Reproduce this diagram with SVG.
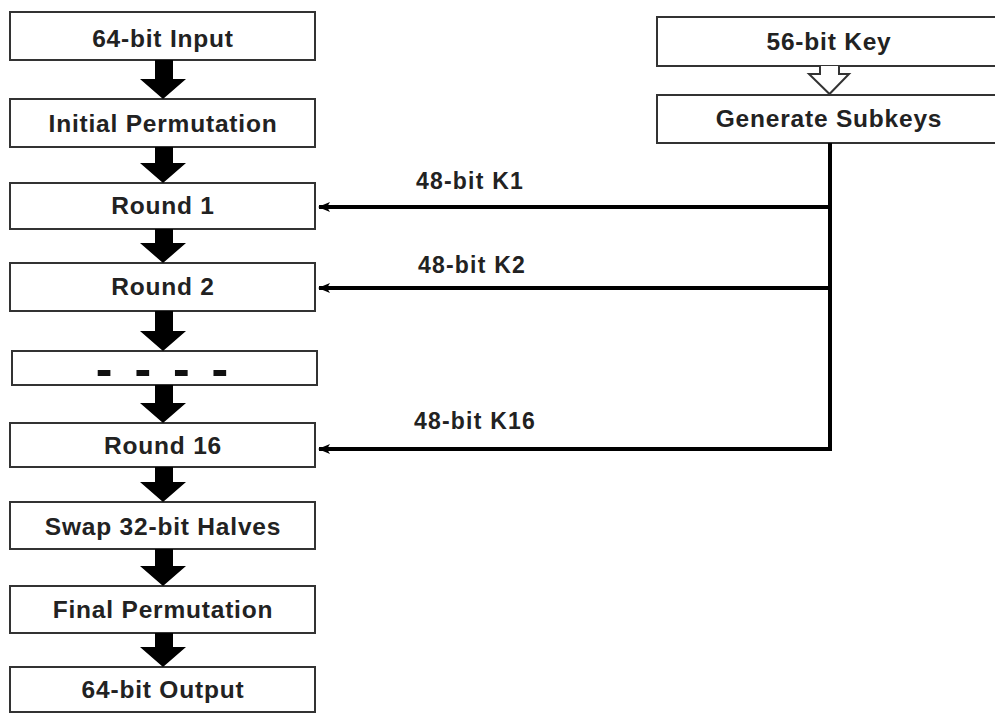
<svg xmlns="http://www.w3.org/2000/svg" width="995" height="713" viewBox="0 0 995 713">
<defs>
<style>
.box{fill:#fff;stroke:#333;stroke-width:2}
.t{font-family:"Liberation Sans",Arial,sans-serif;font-weight:bold;font-size:24.5px;letter-spacing:0.8px;fill:#222;text-anchor:middle}
.lbl{font-family:"Liberation Sans",Arial,sans-serif;font-weight:bold;font-size:23px;letter-spacing:1.2px;fill:#222}
.blk{fill:#000}
.wire{stroke:#000;stroke-width:4;fill:none}
</style>
<marker id="ah" viewBox="0 0 12 10" refX="11" refY="5" markerWidth="12" markerHeight="10" markerUnits="userSpaceOnUse" orient="auto">
<path d="M0,0 L12,5 L0,10 L3,5 Z" fill="#000"/>
</marker>
</defs>
<rect width="995" height="713" fill="#fff"/>
<g id="input"><rect class="box" x="10" y="12" width="305" height="48"/><text class="t" x="163" y="47">64-bit Input</text></g>
<g id="initial-permutation"><rect class="box" x="10" y="99" width="305" height="48"/><text class="t" x="163" y="132">Initial Permutation</text></g>
<g id="round1"><rect class="box" x="10" y="183" width="305" height="46"/><text class="t" x="163" y="214">Round 1</text></g>
<g id="round2"><rect class="box" x="10" y="263" width="305" height="48"/><text class="t" x="163" y="295">Round 2</text></g>
<g id="rounds-ellipsis"><rect class="box" x="12" y="351" width="305" height="34"/><text x="164" y="386" style="font-family:'Liberation Sans',Arial,sans-serif;font-weight:bold;font-size:50px;letter-spacing:4px;fill:#111;text-anchor:middle">- - - -</text></g>
<g id="round16"><rect class="box" x="10" y="423" width="305" height="44"/><text class="t" x="163" y="454">Round 16</text></g>
<g id="swap"><rect class="box" x="10" y="502" width="305" height="47"/><text class="t" x="163" y="535">Swap 32-bit Halves</text></g>
<g id="final-permutation"><rect class="box" x="10" y="586" width="305" height="47"/><text class="t" x="163" y="618">Final Permutation</text></g>
<g id="output"><rect class="box" x="10" y="667" width="305" height="45"/><text class="t" x="163" y="698">64-bit Output</text></g>
<g id="key"><rect class="box" x="657" y="17" width="345" height="49"/><text class="t" x="829" y="50">56-bit Key</text></g>
<g id="generate-subkeys"><rect class="box" x="657" y="95" width="345" height="48"/><text class="t" x="829" y="127">Generate Subkeys</text></g>
<g id="connectors">
<path class="blk" d="M155,60 H173 V79 H186 L163,99 L140,79 H155 Z"/>
<path class="blk" d="M155,147 H173 V163 H186 L163,183 L140,163 H155 Z"/>
<path class="blk" d="M155,229 H173 V243 H186 L163,263 L140,243 H155 Z"/>
<path class="blk" d="M155,311 H173 V331 H186 L163,351 L140,331 H155 Z"/>
<path class="blk" d="M155,385 H173 V403 H186 L163,423 L140,403 H155 Z"/>
<path class="blk" d="M155,467 H173 V482 H186 L163,502 L140,482 H155 Z"/>
<path class="blk" d="M155,549 H173 V566 H186 L163,586 L140,566 H155 Z"/>
<path class="blk" d="M155,633 H173 V647 H186 L163,667 L140,647 H155 Z"/>
<path d="M820,66 V74 H809 L829.5,94 L849,74 H839 V66" fill="#fff" stroke="#333" stroke-width="2"/>
<path class="wire" d="M830,143 V449"/>
<path class="wire" d="M832,207 H319" marker-end="url(#ah)"/>
<path class="wire" d="M832,288 H319" marker-end="url(#ah)"/>
<path class="wire" d="M832,449 H319" marker-end="url(#ah)"/>
<text class="lbl" x="416" y="189">48-bit K1</text>
<text class="lbl" x="418" y="273">48-bit K2</text>
<text class="lbl" x="414" y="429">48-bit K16</text>
</g>
</svg>
